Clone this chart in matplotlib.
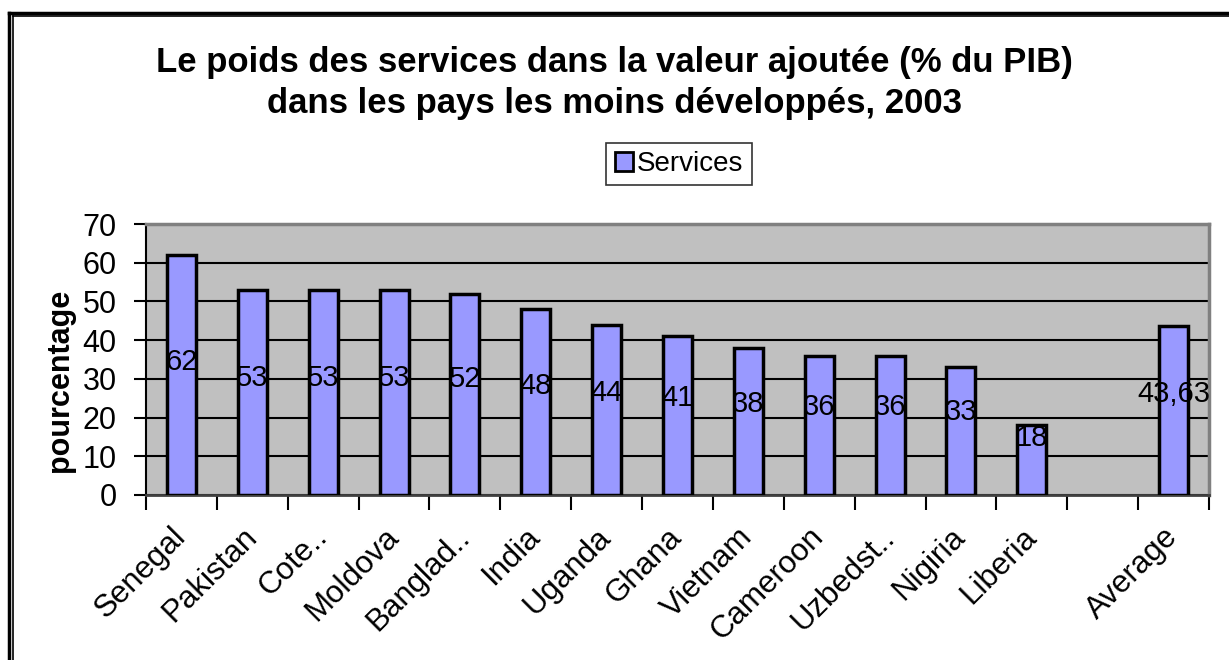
import matplotlib
matplotlib.use("Agg")
import matplotlib.pyplot as plt
from matplotlib.lines import Line2D
from matplotlib.patches import Patch
import numpy as np

plt.rcParams["font.family"] = ["Liberation Sans", "DejaVu Sans"]

countries = ["Senegal", "Pakistan", "Cote..", "Moldova", "Banglad..", "India",
             "Uganda", "Ghana", "Vietnam", "Cameroon", "Uzbedst..", "Nigiria",
             "Liberia", "", "Average"]
services = [62, 53, 53, 53, 52, 48, 44, 41, 38, 36, 36, 33, 18, None, 43.63]
value_labels = ["62", "53", "53", "53", "52", "48", "44", "41", "38", "36",
                "36", "33", "18", "", "43,63"]

bar_color = "#9999FF"
plot_bg = "#C0C0C0"

fig = plt.figure(figsize=(12.29, 6.6), dpi=100)
ax = fig.add_axes([0.1188, 0.25, 0.9837 - 0.1188, 0.6606 - 0.25])
ax.set_facecolor(plot_bg)

x = np.arange(len(countries))
heights = [v if v is not None else 0 for v in services]
bars = ax.bar(x, heights, width=0.41, color=bar_color, edgecolor="black",
              linewidth=2.5, zorder=3)
for b, v in zip(bars, services):
    if v is None:
        b.set_visible(False)

for xi, v, lab in zip(x, services, value_labels):
    if v is None:
        continue
    ax.text(xi, v * 0.45 + 6.5, lab, ha="center", va="center",
            fontsize=21, color="black", zorder=4)

ax.set_xlim(-0.5, len(countries) - 0.5)
ax.set_ylim(0, 70)
ax.set_yticks(range(0, 71, 10))
ax.tick_params(axis="y", labelsize=22, length=9, width=1.5, direction="out",
               pad=12)
ax.yaxis.grid(True, color="black", linewidth=1.5, zorder=1)
ax.set_axisbelow(True)

# category ticks between bars, labels at bar centers
ax.set_xticks(np.arange(-0.5, len(countries), 1.0))
ax.set_xticklabels([])
ax.tick_params(axis="x", which="major", length=11, width=1.5, direction="out")
ax.set_xticks(x, minor=True)
ax.set_xticklabels(countries, minor=True, rotation=45, ha="right", va="center",
                   rotation_mode="anchor", fontsize=22.5)
ax.tick_params(axis="x", which="minor", length=0, pad=27)

ax.set_ylabel("pourcentage", fontsize=22, fontweight="bold")
ax.yaxis.set_label_coords(-0.067, 0.424)

for side in ["top", "right"]:
    ax.spines[side].set_color("#808080")
    ax.spines[side].set_linewidth(2.5)
ax.spines["left"].set_color("black")
ax.spines["left"].set_linewidth(1.5)
ax.spines["bottom"].set_color("#404040")
ax.spines["bottom"].set_linewidth(2)

fig.text(0.5, 0.874, "Le poids des services dans la valeur ajoutée (% du PIB)\n"
         "dans les pays les moins développés, 2003",
         ha="center", va="center", fontsize=25, fontweight="bold",
         linespacing=1.3)

handle = Patch(facecolor=bar_color, edgecolor="black", linewidth=2)
leg = fig.legend([handle], ["Services"], loc="center",
                 bbox_to_anchor=(0.5525, 0.7515), fontsize=20, frameon=True,
                 fancybox=False, edgecolor="black", handlelength=0.65,
                 handleheight=0.65, handletextpad=0.15, borderpad=0.3)
leg.get_frame().set_linewidth(1.2)

# outer double border (left and top visible)
W, H = 1229, 660
fig.add_artist(Line2D([8.5 / W, 8.5 / W], [0, 1 - 12.5 / H], color="black",
                      linewidth=2.5, transform=fig.transFigure))
fig.add_artist(Line2D([8.5 / W, 1], [1 - 12.5 / H, 1 - 12.5 / H],
                      color="black", linewidth=2.5, transform=fig.transFigure))
fig.add_artist(Line2D([12.5 / W, 12.5 / W], [0, 1 - 16 / H], color="black",
                      linewidth=1.2, transform=fig.transFigure))
fig.add_artist(Line2D([12.5 / W, 1], [1 - 16 / H, 1 - 16 / H],
                      color="black", linewidth=1.2, transform=fig.transFigure))

fig.savefig("out.png", dpi=100)
